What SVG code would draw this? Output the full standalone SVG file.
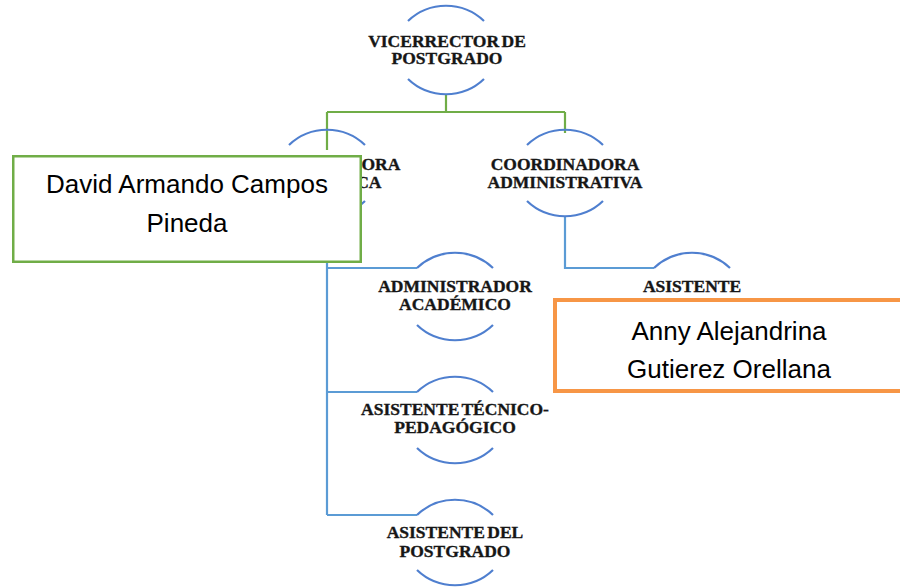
<svg xmlns="http://www.w3.org/2000/svg" width="900" height="588" viewBox="0 0 900 588">
<style>
.arc{fill:none;stroke:#4f7fcf;stroke-width:2.2}
.lbl{font-family:"Liberation Serif","DejaVu Serif",serif;font-weight:bold;font-size:17.5px;fill:#161616;stroke:#161616;stroke-width:0.35;text-anchor:middle;word-spacing:-2px}
.cg{fill:none;stroke:#70ad47;stroke-width:2.2}
.cb{fill:none;stroke:#5b9bd5;stroke-width:2.2}
.name{font-family:"Liberation Sans","Arial",sans-serif;font-size:26px;fill:#000;text-anchor:middle}
</style>
<rect width="900" height="588" fill="#fff"/>
<g id="connectors">
<path class="cg" d="M446 94 V112 M327 112 H565 M327 112 V150 M565 112 V133"/>
<path class="cb" d="M327 216 V515 M327 268 H417 M327 392 H417 M327 515 H417"/>
<path class="cb" d="M565 216 V268 H654"/>
</g>
<g id="vicerrector">
<path class="arc" d="M408 21 A55 55 0 0 1 484 21"/>
<path class="arc" d="M408 79 A55 55 0 0 0 484 79"/>
<text class="lbl" x="447" y="47">VICERRECTOR DE</text>
<text class="lbl" x="447" y="64">POSTGRADO</text>
</g>
<g id="coord-academica">
<path class="arc" d="M289 145 A55 55 0 0 1 365 145"/>
<path class="arc" d="M289 201 A55 55 0 0 0 365 201"/>
<text class="lbl" x="326" y="170">COORDINADORA</text>
<text class="lbl" x="326" y="188">ACADÉMICA</text>
</g>
<g id="coord-administrativa">
<path class="arc" d="M527 145 A55 55 0 0 1 603 145"/>
<path class="arc" d="M527 201 A55 55 0 0 0 603 201"/>
<text class="lbl" x="565" y="170">COORDINADORA</text>
<text class="lbl" x="565" y="188">ADMINISTRATIVA</text>
</g>
<g id="admin-academico">
<path class="arc" d="M417 268 A55 55 0 0 1 493 268"/>
<path class="arc" d="M417 325 A55 55 0 0 0 493 325"/>
<text class="lbl" x="455" y="292">ADMINISTRADOR</text>
<text class="lbl" x="455" y="310">ACADÉMICO</text>
</g>
<g id="asistente">
<path class="arc" d="M654 268 A55 55 0 0 1 730 268"/>
<path class="arc" d="M654 325 A55 55 0 0 0 730 325"/>
<text class="lbl" x="692" y="292">ASISTENTE</text>
</g>
<g id="asist-tecnico">
<path class="arc" d="M417 392 A55 55 0 0 1 493 392"/>
<path class="arc" d="M417 448 A55 55 0 0 0 493 448"/>
<text class="lbl" x="455" y="415">ASISTENTE TÉCNICO-</text>
<text class="lbl" x="455" y="433">PEDAGÓGICO</text>
</g>
<g id="asist-postgrado">
<path class="arc" d="M417 515 A55 55 0 0 1 493 515"/>
<path class="arc" d="M417 570 A55 55 0 0 0 493 570"/>
<text class="lbl" x="455" y="538">ASISTENTE DEL</text>
<text class="lbl" x="455" y="557">POSTGRADO</text>
</g>
<g id="box-david">
<rect x="13.25" y="156.25" width="347.5" height="105.5" fill="#fff" stroke="#70ad47" stroke-width="2.5"/>
<text class="name" x="187" y="193">David Armando Campos</text>
<text class="name" x="187" y="232">Pineda</text>
</g>
<g id="box-anny">
<rect x="555" y="300" width="352" height="91" fill="#fff" stroke="#f79646" stroke-width="4"/>
<text class="name" x="729" y="340">Anny Alejandrina</text>
<text class="name" x="729" y="378">Gutierez Orellana</text>
</g>
</svg>
